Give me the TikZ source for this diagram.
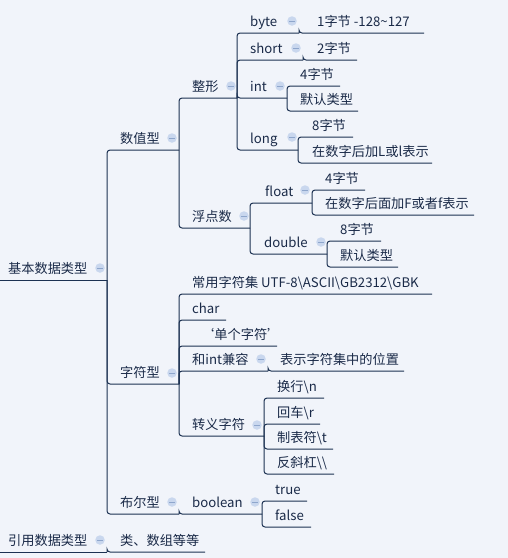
\documentclass[tikz,border=0pt]{standalone}
\usepackage{fontspec}
\setmainfont{Noto Sans CJK SC}
\usepackage{tikz}
\usetikzlibrary{positioning}

\definecolor{paper}{HTML}{F1F4FA}
\definecolor{ink}{HTML}{1A2A48}
\definecolor{wire}{HTML}{1C3152}
\definecolor{foldfill}{HTML}{C9D7EE}
\definecolor{foldline}{HTML}{8EA6CC}

\begin{document}
\begin{tikzpicture}[
    x=1pt, y=-1pt,
    topic/.style={anchor=base west, inner sep=0pt, text=ink,
      font=\fontsize{13.2}{15}\selectfont},
    link/.style={draw=wire, line width=1pt, rounded corners=3pt},
    fold/.style={circle, fill=foldfill, inner sep=0pt, minimum size=9.5pt,
      path picture={\draw[foldline, line width=1pt]
        ([xshift=-2.6pt]path picture bounding box.center) --
        ([xshift=2.6pt]path picture bounding box.center);}}
  ]
  \fill[paper] (0,0) rectangle (508,558);
  \useasboundingbox (0,0) rectangle (508,558);

  % Topics: name / text x / underline y / junction x / text
  \foreach \n/\x/\y/\e/\t in {
      jb/8/280/107/{基本数据类型},
      sz/120/150/179/{数值型},
      zx/192/98/237/{整形},
      by/250/33/299/{byte},
      by1/317/33/424/{1字节 -128\textasciitilde 127},
      sh/250/60/303/{short},
      sh1/317/60/357/{2字节},
      in/250/98/287/{int},
      in1/300/86/340/{4字节},
      in2/300/111/358/{默认类型},
      lo/250/150/298/{long},
      lo1/312/137/353/{8字节},
      lo2/312/163/432/{在数字后加L或l表示},
      fd/192/228/250/{浮点数},
      fl/265/203/312/{float},
      fl1/325/190/365/{4字节},
      fl2/325/215/474/{在数字后面加F或者f表示},
      db/264/254/327/{double},
      db1/340/241/381/{8字节},
      db2/340/267/398/{默认类型},
      zf/120/384/179/{字符型},
      cs/192/294/432/{常用字符集 UTF-8\textbackslash ASCII\textbackslash GB2312\textbackslash GBK},
      ch/192/320/226/{char},
      dg/201/346/277/{‘单个字符’},
      jr/192/371/268/{和int兼容},
      jr1/280/371/404/{表示字符集中的位置},
      zy/192/436/264/{转义字符},
      zy1/277/398/324/{换行\textbackslash n},
      zy2/277/424/320/{回车\textbackslash r},
      zy3/277/449/333/{制表符\textbackslash t},
      zy4/277/474/334/{反斜杠\textbackslash\textbackslash},
      be/120/514/179/{布尔型},
      bo/192/514/262/{boolean},
      bo1/275/501/307/{true},
      bo2/275/527/311/{false},
      yy/8/552/107/{引用数据类型},
      yy1/120/552/205/{类、数组等等}}
  {
    \node[topic] (\n) at (\x,\y-7) {\t};
    \coordinate (\n-e) at (\e,\y);
  }

  % Root underlines
  \coordinate (jb-s) at (0,280);
  \coordinate (yy-s) at (0,552);
  \draw[link] (jb-s) -- (jb-e);
  \draw[link] (yy-s) -- (yy-e);

  % Connectors
  \foreach \p/\c in {jb/sz, jb/zf, jb/be,
      sz/zx, sz/fd,
      zx/by, zx/sh, zx/in, zx/lo,
      by/by1, sh/sh1, in/in1, in/in2, lo/lo1, lo/lo2,
      fd/fl, fd/db, fl/fl1, fl/fl2, db/db1, db/db2,
      zf/cs, zf/ch, zf/dg, zf/jr, zf/zy,
      jr/jr1, zy/zy1, zy/zy2, zy/zy3, zy/zy4,
      be/bo, bo/bo1, bo/bo2, yy/yy1}
    \draw[link] (\p-e) |- (\c-e);

  % Collapse icons
  \foreach \n/\x/\y in {jb/100/268, sz/172/138, zx/231/86, by/292/21,
      sh/296/48, in/280/86, lo/292/137, fd/244/216, fl/305/190,
      db/321/242, zf/172/373, jr/261/359, zy/257/425, be/172/502,
      bo/255/502, yy/100/540}
    \node[fold] (\n-f) at (\x,\y) {};
\end{tikzpicture}
\end{document}
